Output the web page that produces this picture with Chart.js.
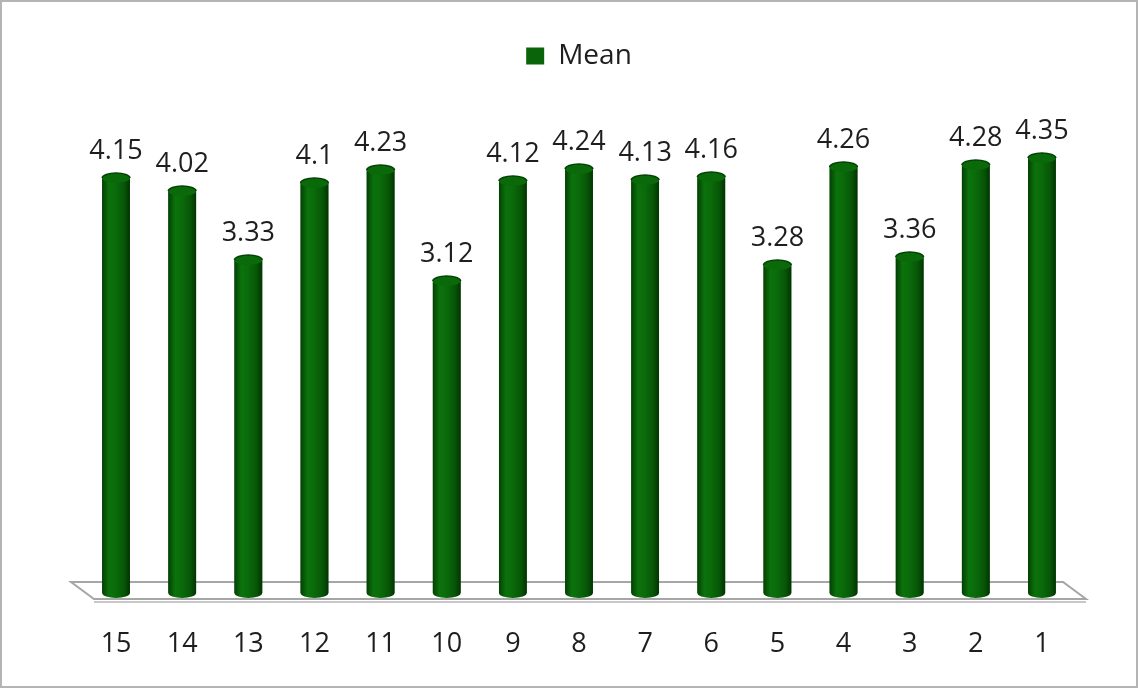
<!DOCTYPE html>
<html lang="en">
<head>
    <meta charset="UTF-8">
    <title>Mean</title>
    <style>
        html, body { margin: 0; padding: 0; background: #fff; }
        #wrap { width: 1138px; height: 688px; box-sizing: border-box; border: 2px solid #b4b4b4; position: relative; }
        #wrap canvas { position: absolute; left: 0; top: 0; }
    </style>
</head>
<body>
<script src="https://cdn.jsdelivr.net/npm/chart.js"></script>
<div id="wrap">
  <canvas id="myChart" width="1134" height="684"></canvas>
</div>
    <script>
        var categories = ['15', '14', '13', '12', '11', '10', '9', '8', '7', '6', '5', '4', '3', '2', '1']
        var meanValues = [4.15, 4.02, 3.33, 4.1, 4.23, 3.12, 4.12, 4.24, 4.13, 4.16, 3.28, 4.26, 3.36, 4.28, 4.35]
        var seriesName = 'Mean'

        var textFont = '"Open Sans", "Liberation Sans", sans-serif'

        // extra room under the legend
        const legendGap = {
          id: 'legendGap',
          beforeInit(chart) {
            const orig = chart.legend.fit
            chart.legend.fit = function () {
              orig.call(this)
              this.height += 13
            }
          }
        }

        // floor slab under the bars
        const floorPlugin = {
          id: 'floor',
          beforeDatasetsDraw(chart) {
            const a = chart.chartArea
            const ctx = chart.ctx
            ctx.save()
            ctx.beginPath()
            ctx.moveTo(a.left - 12, a.bottom - 11)
            ctx.lineTo(a.right - 12, a.bottom - 11)
            ctx.lineTo(a.right + 11, a.bottom + 6)
            ctx.lineTo(a.left + 11, a.bottom + 6)
            ctx.closePath()
            ctx.fillStyle = '#ffffff'
            ctx.fill()
            ctx.lineWidth = 2
            ctx.strokeStyle = '#a6a6a6'
            ctx.stroke()
            ctx.beginPath()
            ctx.moveTo(a.left + 11, a.bottom + 9)
            ctx.lineTo(a.right + 11, a.bottom + 9)
            ctx.strokeStyle = '#c8c8c8'
            ctx.stroke()
            ctx.restore()
          }
        }

        // cylinder shading + value labels, on top of the library bars
        const cylinderPlugin = {
          id: 'cylinder',
          afterDatasetsDraw(chart) {
            const ctx = chart.ctx
            const meta = chart.getDatasetMeta(0)
            meta.data.forEach((bar, i) => {
              const w = bar.width
              const l = bar.x - w / 2
              const ry = 5
              const g = ctx.createLinearGradient(l, 0, l + w, 0)
              g.addColorStop(0, '#053f05')
              g.addColorStop(0.25, '#0b730b')
              g.addColorStop(0.5, '#0a6a0a')
              g.addColorStop(0.8, '#075507')
              g.addColorStop(1, '#033303')
              ctx.save()
              ctx.beginPath()
              ctx.moveTo(l, bar.y)
              ctx.lineTo(l, bar.base)
              ctx.ellipse(bar.x, bar.base, w / 2, ry, 0, Math.PI, 0, true)
              ctx.lineTo(l + w, bar.y)
              ctx.closePath()
              ctx.fillStyle = g
              ctx.fill()
              // top cap
              ctx.beginPath()
              ctx.ellipse(bar.x, bar.y, w / 2, ry, 0, 0, Math.PI * 2)
              ctx.fillStyle = '#0a6a0a'
              ctx.fill()
              ctx.beginPath()
              ctx.ellipse(bar.x, bar.y, w / 2, ry, 0, Math.PI, 0)
              ctx.strokeStyle = '#044204'
              ctx.lineWidth = 1.5
              ctx.stroke()
              // value label
              ctx.fillStyle = '#1e1e1e'
              ctx.font = '27px ' + textFont
              ctx.textAlign = 'center'
              ctx.textBaseline = 'middle'
              ctx.fillText(String(meanValues[i]), bar.x, bar.y - 27)
              ctx.restore()
            })
          }
        }

        const data = {
          labels: categories,
          datasets: [{
            label: seriesName,
            backgroundColor: '#0a640a',
            borderWidth: 0,
            data: meanValues,
            barPercentage: 0.42,
            categoryPercentage: 1
          }]
        };

        const config = {
          type: 'bar',
          data,
          plugins: [legendGap, floorPlugin, cylinderPlugin],
          options: {
            responsive: false,
            animation: false,
            layout: { padding: { left: 81, right: 61, top: 30, bottom: 0 } },
            plugins: {
              legend: {
                position: 'top',
                labels: {
                  boxWidth: 18,
                  boxHeight: 17,
                  padding: 10,
                  color: '#1e1e1e',
                  font: { family: textFont, size: 28 }
                }
              },
              tooltip: { enabled: false }
            },
            scales: {
              y: {
                display: false,
                min: 0,
                max: 5
              },
              x: {
                grid: { display: false, drawTicks: false },
                border: { display: false },
                ticks: {
                  padding: 35,
                  color: '#1e1e1e',
                  font: { family: textFont, size: 27 }
                },
                afterFit: (s) => { s.height = 93 }
              }
            }
          }
        };

        var myChart = new Chart(
            document.getElementById('myChart'),
            config
        );
    </script>
</body>
</html>
